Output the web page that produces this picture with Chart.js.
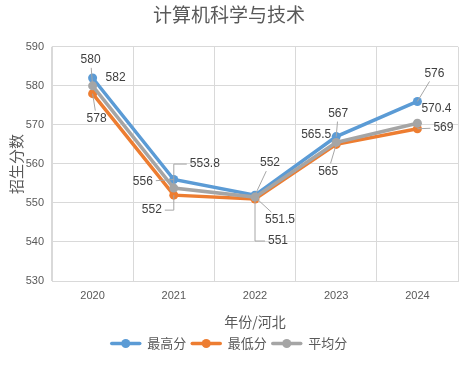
<!DOCTYPE html>
<html>
<head>
<meta charset="utf-8">
<script src="https://cdn.jsdelivr.net/npm/chart.js@4.4.1/dist/chart.umd.min.js"></script>
<style>
  html, body { margin: 0; padding: 0; background: #fff; }
  #grafico { width: 465px; height: 365px; }
</style>
</head>
<body>
<div id="grafico"><canvas id="miGrafico"></canvas></div>
<script>
/* DATOS */
const anios = ['2020', '2021', '2022', '2023', '2024'];
const maxScores = [582, 556, 552, 567, 576];
const minScores = [578, 552, 551, 565, 569];
const avgScores = [580, 553.8, 551.5, 565.5, 570.4];
const seriesNames = ['最高分', '最低分', '平均分'];
const yMin = 530;
const yMax = 590;
const yStep = 10;

const colores = ['#5B9BD5', '#ED7D31', '#A5A5A5'];
const cjk = '"Noto Sans CJK SC", "Noto Sans", sans-serif';
const num = '"Liberation Sans", Arial, sans-serif';

/* etiquetas de datos con lineas guia (dx, dy, tipo de linea) */
const etiquetas = {
  id: 'etiquetas',
  afterDatasetsDraw(chart, args, opts) {
    const c = chart.ctx;
    c.save();
    c.font = '12px ' + num;
    c.textAlign = 'center';
    c.textBaseline = 'middle';
    chart.data.datasets.forEach((ds, i) => {
      const meta = chart.getDatasetMeta(i);
      meta.data.forEach((pt, j) => {
        const o = opts.offsets[i][j];
        const lx = pt.x + o[0];
        const ly = pt.y + o[1];
        const txt = String(ds.data[j]);
        const w = c.measureText(txt).width / 2 + 3;
        const h = 8;
        if (o[2]) {
          c.strokeStyle = '#A6A6A6';
          c.lineWidth = 1;
          c.beginPath();
          if (o[2] === 'codo') {
            c.moveTo(pt.x, pt.y);
            c.lineTo(pt.x, ly);
            c.lineTo(lx > pt.x ? lx - w : lx + w, ly);
          } else {
            const dx = lx - pt.x, dy = ly - pt.y;
            const tx = Math.abs(dx) > w ? (Math.abs(dx) - w) / Math.abs(dx) : 0;
            const ty = Math.abs(dy) > h ? (Math.abs(dy) - h) / Math.abs(dy) : 0;
            const t = Math.max(tx, ty);
            c.moveTo(pt.x, pt.y);
            c.lineTo(pt.x + dx * t, pt.y + dy * t);
          }
          c.stroke();
        }
        c.fillStyle = '#404040';
        c.fillText(txt, lx, ly);
      });
    });
    c.restore();
  }
};

/* linea + circulito de la leyenda */
const leyendaPuntos = {
  id: 'leyendaPuntos',
  afterDraw(chart) {
    const lg = chart.legend;
    if (!lg || !lg.legendHitBoxes) return;
    const c = chart.ctx;
    const bw = lg.options.labels.pointStyleWidth;
    const fs = lg.options.labels.font.size;
    c.save();
    lg.legendHitBoxes.forEach((hb, i) => {
      const cy = hb.top + fs / 2;
      c.strokeStyle = colores[i];
      c.lineWidth = 3.5;
      c.lineCap = 'round';
      c.beginPath();
      c.moveTo(hb.left + 1, cy);
      c.lineTo(hb.left + bw - 1, cy);
      c.stroke();
      c.beginPath();
      c.arc(hb.left + bw / 2, cy, 4.5, 0, Math.PI * 2);
      c.fillStyle = colores[i];
      c.fill();
    });
    c.restore();
  }
};

const ctx = document.getElementById('miGrafico').getContext('2d');

const data = {
  labels: anios,
  datasets: [maxScores, minScores, avgScores].map((vals, i) => ({
    label: seriesNames[i],
    data: vals,
    borderColor: colores[i],
    backgroundColor: colores[i],
    borderWidth: 3.5,
    pointRadius: 4.5,
    pointBorderWidth: 0,
    pointHoverRadius: 4.5,
    tension: 0,
    order: 2 - i
  }))
};

const options = {
  responsive: true,
  maintainAspectRatio: false,
  animation: false,
  layout: { padding: { top: 0, right: 7, bottom: 5, left: 0 } },
  scales: {
    x: {
      offset: true,
      grid: { color: '#D9D9D9', offset: true, drawTicks: false },
      border: { color: '#D9D9D9' },
      ticks: { color: '#595959', font: { family: num, size: 11 }, padding: 8 },
      title: {
        display: true, text: '年份/河北', color: '#595959',
        font: { family: cjk, size: 14 }, padding: { top: 3, bottom: 2 }
      }
    },
    y: {
      min: yMin, max: yMax,
      grid: { color: '#D9D9D9', drawTicks: false },
      border: { color: '#D9D9D9' },
      ticks: { stepSize: yStep, color: '#595959', font: { family: num, size: 11 }, padding: 8 },
      title: {
        display: true, text: '招生分数', color: '#595959',
        font: { family: cjk, size: 15 }, padding: { top: 7, bottom: 0 }
      },
      afterFit(scale) { scale.width = 52; }
    }
  },
  plugins: {
    title: {
      display: true, text: '计算机科学与技术', color: '#595959',
      font: { family: cjk, size: 19, weight: 'normal' },
      padding: { top: 3, bottom: 21 }
    },
    legend: {
      position: 'bottom',
      labels: {
        usePointStyle: true,
        pointStyle: 'line',
        pointStyleWidth: 30,
        color: '#595959',
        font: { family: cjk, size: 13 },
        padding: 5,
        generateLabels: (chart) => seriesNames.map((n, i) => ({
          text: n,
          fillStyle: 'rgba(0,0,0,0)',
          strokeStyle: 'rgba(0,0,0,0)',
          lineWidth: 0,
          pointStyle: 'line',
          fontColor: '#595959',
          hidden: false,
          datasetIndex: i
        }))
      }
    },
    tooltip: { enabled: false },
    etiquetas: {
      offsets: [
        [[23, 0, 0], [-31, 2, 'line'], [15, -32, 'line'], [2, -23, 'line'], [17, -28, 'line']],
        [[4, 25, 'line'], [-22, 15, 'codo'], [23, 42, 'codo'], [-8, 27, 'line'], [26, -1, 'line']],
        [[-2, -26, 'line'], [31, -24, 'codo'], [25, 23, 'line'], [-20, -8, 0], [19, -15, 0]]
      ]
    }
  }
};

let miGrafico = new Chart(ctx, {
  type: 'line',
  data: data,
  options: options,
  plugins: [etiquetas, leyendaPuntos]
});
</script>
</body>
</html>
